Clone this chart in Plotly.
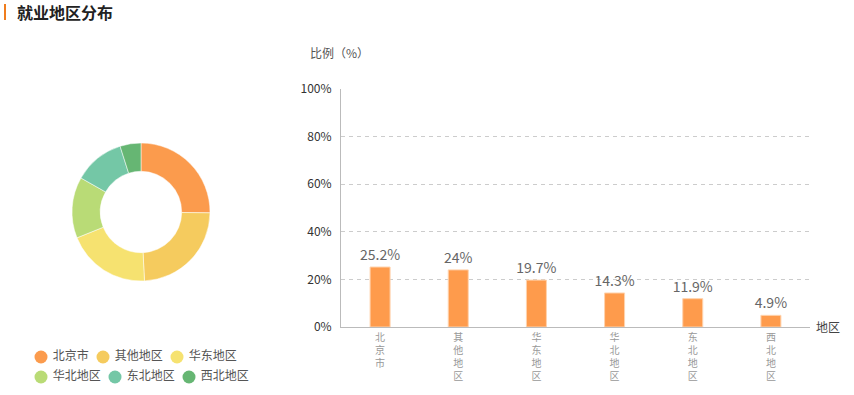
import plotly.graph_objects as go

title_text = "就业地区分布"
regions = ["北京市", "其他地区", "华东地区", "华北地区", "东北地区", "西北地区"]
shares = [25.2, 24, 19.7, 14.3, 11.9, 4.9]
pie_colors = ["#FB9B4D", "#F5CB5E", "#F6E270", "#B9DB76", "#74C7A6", "#66B673"]
bar_color = "#FE9B4C"
y_ticks = [0, 20, 40, 60, 80, 100]
y_title = "比例（%）"
x_title = "地区"

W, H = 854, 395
FONT = "Noto Sans CJK SC"

fig = go.Figure()

# donut
fig.add_trace(go.Pie(
    labels=regions, values=shares, hole=0.59, sort=False, direction="clockwise",
    rotation=0, marker=dict(colors=pie_colors, line=dict(color="white", width=0.5)),
    textinfo="none", showlegend=False, hoverinfo="label+percent",
    domain=dict(x=[72 / W, 210 / W], y=[(H - 281) / H, (H - 143) / H]),
))

# bar chart
fmt = lambda v: (f"{v:g}%")
fig.add_trace(go.Bar(
    x=regions, y=shares, text=[fmt(v) for v in shares], textposition="outside",
    constraintext="none",
    textfont=dict(size=14, color="#666666", family=FONT),
    marker=dict(color=bar_color, line=dict(color="#FFD3AE", width=1)),
    cliponaxis=False, showlegend=False, xaxis="x", yaxis="y",
))

# manual legend (two rows of three)
lx, ly, lt = [], [], []
x0 = 41
for i, r in enumerate(regions):
    row, col = divmod(i, 3)
    if col == 0:
        x = x0
    lx.append(x)
    ly.append(357 + row * 20)
    lt.append(r)
    x = x + 12 * len(r) + 26
fig.add_trace(go.Scatter(
    x=lx, y=ly, mode="markers+text", text=[" " + t for t in lt],
    textposition="middle right",
    textfont=dict(size=12, color="#555555", family=FONT),
    marker=dict(size=13, color=pie_colors), showlegend=False, hoverinfo="skip",
    xaxis="x3", yaxis="y3", cliponaxis=False,
))

tick_text = ["<br>".join(list(r)) for r in regions]

fig.update_layout(
    width=W, height=H, margin=dict(l=0, r=0, t=0, b=0, autoexpand=False),
    paper_bgcolor="white", plot_bgcolor="white",
    font=dict(family=FONT, color="#333333"),
    bargap=0.744,
    xaxis=dict(domain=[341 / W, 810 / W], tickmode="array", tickvals=regions,
               ticktext=tick_text, tickfont=dict(size=10, color="#999999"),
               showline=True, linecolor="#BBBBBB", linewidth=1, ticks="",
               showgrid=False, anchor="y", ticklabelstandoff=1, automargin=False),
    yaxis=dict(domain=[(H - 327) / H, (H - 89) / H], range=[0, 100],
               tickmode="array", tickvals=y_ticks, ticktext=[f"{v}%" for v in y_ticks],
               tickfont=dict(size=12, color="#333333"),
               showline=True, linecolor="#BBBBBB", linewidth=1,
               showgrid=True, gridcolor="#CCCCCC", griddash="4px,4px", gridwidth=1,
               zeroline=False, anchor="x", ticks="", ticklabelstandoff=6, automargin=False),
    xaxis3=dict(domain=[0, 300 / W], range=[0, 300], visible=False, fixedrange=True,
                automargin=False),
    yaxis3=dict(domain=[0, 60 / H], range=[395, 335], visible=False, fixedrange=True,
                anchor="x3", automargin=False),
    shapes=[dict(type="rect", xref="paper", yref="paper", x0=4 / W, x1=6 / W,
                 y0=(H - 20) / H, y1=(H - 4) / H, fillcolor="#F07D1E", line=dict(width=0))],
    annotations=[
        dict(text=f"<b>{title_text}</b>", xref="paper", yref="paper", x=15 / W, y=(H - 12) / H,
             xanchor="left", yanchor="middle", showarrow=False,
             font=dict(size=16, color="#222222", family=FONT)),
        dict(text=y_title, xref="paper", yref="paper", x=308 / W, y=(H - 52) / H,
             xanchor="left", yanchor="middle", showarrow=False,
             font=dict(size=12, color="#555555", family=FONT)),
        dict(text=x_title, xref="paper", yref="paper", x=814 / W, y=(H - 326) / H,
             xanchor="left", yanchor="middle", showarrow=False,
             font=dict(size=12, color="#444444", family=FONT)),
    ],
)

fig.write_html("out.html", config={"displayModeBar": False},
               post_script="document.body.style.margin='0';document.body.style.padding='0';")
